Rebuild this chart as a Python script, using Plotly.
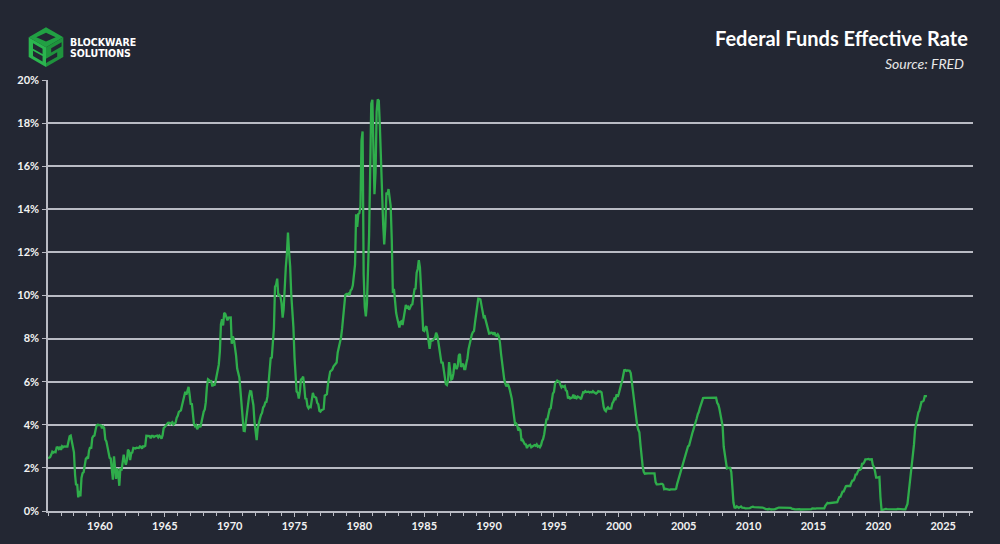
import pandas as pd
import plotly.graph_objects as go

# Monthly effective federal funds rate (%), January 1956 onward
rates = [
    2.45, 2.50, 2.50, 2.62, 2.75, 2.71, 2.75, 2.73, 2.95, 2.96, 2.88, 2.94,  # 1956
    2.84, 3.00, 2.96, 3.00, 3.00, 3.00, 2.99, 3.24, 3.47, 3.50, 3.28, 2.98,  # 1957
    2.72, 1.67, 1.20, 1.26, 0.63, 0.93, 0.68, 1.53, 1.76, 1.80, 2.27, 2.42,  # 1958
    2.48, 2.43, 2.80, 2.96, 2.90, 3.39, 3.47, 3.50, 3.76, 3.98, 4.00, 3.99,  # 1959
    3.99, 3.97, 3.84, 3.92, 3.85, 3.32, 3.23, 2.98, 2.60, 2.47, 2.44, 1.98,  # 1960
    1.45, 2.54, 2.02, 1.49, 1.98, 1.73, 1.17, 2.00, 1.88, 2.26, 2.61, 2.33,  # 1961
    2.15, 2.37, 2.85, 2.78, 2.36, 2.68, 2.71, 2.93, 2.90, 2.90, 2.94, 2.93,  # 1962
    2.92, 3.00, 2.98, 2.90, 3.00, 2.99, 3.02, 3.49, 3.48, 3.50, 3.48, 3.38,  # 1963
    3.48, 3.48, 3.43, 3.47, 3.50, 3.50, 3.42, 3.50, 3.45, 3.36, 3.52, 3.85,  # 1964
    3.90, 3.98, 4.04, 4.09, 4.10, 4.04, 4.09, 4.12, 4.01, 4.08, 4.10, 4.32,  # 1965
    4.42, 4.60, 4.65, 4.67, 4.90, 5.17, 5.30, 5.53, 5.40, 5.53, 5.76, 5.40,  # 1966
    4.94, 5.00, 4.53, 4.05, 3.94, 3.98, 3.79, 3.90, 3.99, 3.88, 4.13, 4.51,  # 1967
    4.61, 4.71, 5.05, 5.76, 6.11, 6.07, 6.02, 6.03, 5.78, 5.91, 5.82, 6.02,  # 1968
    6.30, 6.64, 6.79, 7.41, 8.67, 8.90, 8.61, 9.19, 9.15, 9.00, 8.85, 8.97,  # 1969
    8.98, 8.98, 7.76, 8.10, 7.95, 7.61, 7.21, 6.61, 6.29, 6.20, 5.60, 4.90,  # 1970
    4.14, 3.72, 3.71, 4.16, 4.63, 4.91, 5.31, 5.56, 5.55, 5.20, 4.91, 4.14,  # 1971
    3.50, 3.29, 3.83, 4.17, 4.27, 4.46, 4.55, 4.80, 4.87, 5.04, 5.06, 5.33,  # 1972
    5.94, 6.58, 7.09, 7.12, 7.84, 8.49, 10.40, 10.50, 10.78, 10.01, 10.03, 9.95,  # 1973
    9.65, 8.97, 9.35, 10.51, 11.31, 11.93, 12.92, 12.01, 11.34, 10.06, 9.45, 8.53,  # 1974
    7.13, 6.24, 5.54, 5.49, 5.22, 5.55, 6.10, 6.14, 6.24, 5.82, 5.22, 5.20,  # 1975
    4.87, 4.77, 4.84, 4.82, 5.29, 5.48, 5.31, 5.29, 5.25, 5.02, 4.95, 4.65,  # 1976
    4.61, 4.68, 4.69, 4.73, 5.35, 5.39, 5.42, 5.90, 6.14, 6.47, 6.51, 6.56,  # 1977
    6.70, 6.78, 6.79, 6.89, 7.36, 7.60, 7.81, 8.04, 8.45, 8.96, 9.76, 10.03,  # 1978
    10.07, 10.06, 10.09, 10.01, 10.24, 10.29, 10.47, 10.94, 11.43, 13.77, 13.18, 13.78,  # 1979
    13.82, 14.13, 17.19, 17.61, 10.98, 9.47, 9.03, 9.61, 10.87, 12.81, 15.85, 18.90,  # 1980
    19.08, 15.93, 14.70, 15.72, 18.52, 19.10, 19.04, 17.82, 15.87, 15.08, 13.31, 12.37,  # 1981
    13.22, 14.78, 14.68, 14.94, 14.45, 14.15, 12.59, 10.12, 10.31, 9.71, 9.20, 8.95,  # 1982
    8.68, 8.51, 8.77, 8.80, 8.63, 8.98, 9.37, 9.56, 9.45, 9.48, 9.34, 9.47,  # 1983
    9.56, 9.59, 9.91, 10.29, 10.32, 11.06, 11.23, 11.64, 11.30, 9.99, 9.43, 8.38,  # 1984
    8.35, 8.50, 8.58, 8.27, 7.97, 7.53, 7.88, 7.90, 7.92, 7.99, 8.05, 8.27,  # 1985
    8.14, 7.86, 7.48, 6.99, 6.85, 6.92, 6.56, 6.17, 5.89, 5.85, 6.04, 6.91,  # 1986
    6.43, 6.10, 6.13, 6.37, 6.85, 6.73, 6.58, 6.73, 7.22, 7.29, 6.69, 6.77,  # 1987
    6.83, 6.58, 6.58, 6.87, 7.09, 7.51, 7.75, 8.01, 8.19, 8.30, 8.35, 8.76,  # 1988
    9.12, 9.36, 9.85, 9.84, 9.81, 9.53, 9.24, 8.99, 9.02, 8.84, 8.55, 8.45,  # 1989
    8.23, 8.24, 8.28, 8.26, 8.18, 8.29, 8.15, 8.13, 8.20, 8.11, 7.81, 7.31,  # 1990
    6.91, 6.25, 6.12, 5.91, 5.78, 5.90, 5.82, 5.66, 5.45, 5.21, 4.81, 4.43,  # 1991
    4.03, 4.06, 3.98, 3.73, 3.82, 3.76, 3.25, 3.30, 3.22, 3.10, 3.09, 2.92,  # 1992
    3.02, 3.03, 3.07, 2.96, 3.00, 3.04, 3.06, 3.03, 3.09, 2.99, 3.02, 2.96,  # 1993
    3.05, 3.25, 3.34, 3.56, 4.01, 4.25, 4.26, 4.47, 4.73, 4.76, 5.29, 5.45,  # 1994
    5.53, 5.92, 5.98, 6.05, 6.01, 6.00, 5.85, 5.74, 5.80, 5.76, 5.80, 5.60,  # 1995
    5.56, 5.22, 5.31, 5.22, 5.24, 5.27, 5.40, 5.22, 5.30, 5.24, 5.31, 5.29,  # 1996
    5.25, 5.19, 5.39, 5.51, 5.50, 5.56, 5.52, 5.54, 5.54, 5.50, 5.52, 5.50,  # 1997
    5.56, 5.51, 5.49, 5.45, 5.49, 5.56, 5.54, 5.55, 5.51, 5.07, 4.83, 4.68,  # 1998
    4.63, 4.76, 4.81, 4.74, 4.74, 4.76, 4.99, 5.07, 5.22, 5.20, 5.42, 5.30,  # 1999
    5.45, 5.73, 5.85, 6.02, 6.27, 6.53, 6.54, 6.50, 6.52, 6.51, 6.51, 6.40,  # 2000
    5.98, 5.49, 5.31, 4.80, 4.21, 3.97, 3.77, 3.65, 3.07, 2.49, 2.09, 1.82,  # 2001
    1.73, 1.74, 1.73, 1.75, 1.75, 1.75, 1.73, 1.74, 1.75, 1.75, 1.34, 1.24,  # 2002
    1.24, 1.26, 1.25, 1.26, 1.26, 1.22, 1.01, 1.03, 1.01, 1.01, 1.00, 0.98,  # 2003
    1.00, 1.01, 1.00, 1.00, 1.00, 1.03, 1.26, 1.43, 1.61, 1.76, 1.93, 2.16,  # 2004
    2.28, 2.50, 2.63, 2.79, 3.00, 3.04, 3.26, 3.50, 3.62, 3.78, 4.00, 4.16,  # 2005
    4.29, 4.49, 4.59, 4.79, 4.94, 4.99, 5.24, 5.25, 5.25, 5.25, 5.25, 5.24,  # 2006
    5.25, 5.26, 5.26, 5.25, 5.25, 5.25, 5.26, 5.02, 4.94, 4.76, 4.49, 4.24,  # 2007
    3.94, 2.98, 2.61, 2.28, 1.98, 2.00, 2.01, 2.00, 1.81, 0.97, 0.39, 0.16,  # 2008
    0.15, 0.22, 0.18, 0.15, 0.18, 0.21, 0.16, 0.16, 0.15, 0.12, 0.12, 0.12,  # 2009
    0.11, 0.13, 0.16, 0.20, 0.20, 0.18, 0.18, 0.19, 0.19, 0.19, 0.19, 0.18,  # 2010
    0.17, 0.16, 0.14, 0.10, 0.09, 0.09, 0.07, 0.10, 0.08, 0.07, 0.08, 0.07,  # 2011
    0.08, 0.10, 0.13, 0.14, 0.16, 0.16, 0.16, 0.13, 0.14, 0.16, 0.16, 0.16,  # 2012
    0.14, 0.15, 0.14, 0.15, 0.11, 0.09, 0.09, 0.08, 0.08, 0.09, 0.08, 0.09,  # 2013
    0.07, 0.07, 0.08, 0.09, 0.09, 0.10, 0.09, 0.09, 0.09, 0.09, 0.09, 0.12,  # 2014
    0.11, 0.11, 0.11, 0.12, 0.12, 0.13, 0.13, 0.14, 0.14, 0.12, 0.12, 0.24,  # 2015
    0.34, 0.38, 0.36, 0.37, 0.37, 0.38, 0.39, 0.40, 0.40, 0.40, 0.41, 0.54,  # 2016
    0.65, 0.66, 0.79, 0.90, 0.91, 1.04, 1.15, 1.16, 1.15, 1.15, 1.16, 1.30,  # 2017
    1.41, 1.42, 1.51, 1.69, 1.70, 1.82, 1.91, 1.91, 1.95, 2.19, 2.20, 2.27,  # 2018
    2.40, 2.40, 2.41, 2.42, 2.39, 2.38, 2.40, 2.13, 2.04, 1.83, 1.55, 1.55,  # 2019
    1.55, 1.58, 0.65, 0.05, 0.05, 0.08, 0.09, 0.10, 0.09, 0.09, 0.09, 0.09,  # 2020
    0.09, 0.08, 0.07, 0.07, 0.06, 0.08, 0.10, 0.09, 0.08, 0.08, 0.08, 0.08,  # 2021
    0.08, 0.08, 0.20, 0.33, 0.77, 1.21, 1.68, 2.33, 2.56, 3.08, 3.78, 4.10,  # 2022
    4.33, 4.57, 4.65, 4.83, 5.06, 5.08, 5.12, 5.33, 5.33, 5.33,              # 2023
]
start_month = "1956-01-01"
dates = pd.date_range(start_month, periods=len(rates), freq="MS")

y_ticks = [0, 2, 4, 6, 8, 10, 12, 14, 16, 18, 20]
y_tick_labels = [f"{v}%" for v in y_ticks]

title_text = "Federal Funds Effective Rate"
source_text = "Source: FRED"
logo_lines = ["BLOCKWARE", "SOLUTIONS"]

BG = "#232733"
GRID = "#b9bbc4"
GREEN = "#2fad4b"
TEXT = "#f2f2f2"

# Plot area in page pixels
PL, PR, PT, PB = 48, 27, 80, 31
PW, PH = 1000 - PL - PR, 544 - PT - PB


def px(x):
    return (x - PL) / PW


def py(y):
    return (544 - PB - y) / PH


fig = go.Figure()
fig.add_trace(go.Scatter(
    x=dates, y=rates, mode="lines",
    line=dict(color=GREEN, width=2.3),
    hoverinfo="x+y", showlegend=False,
))

fig.update_layout(
    width=1000, height=544,
    margin=dict(l=PL, r=PR, t=PT, b=PB),
    paper_bgcolor=BG, plot_bgcolor=BG,
    font=dict(family="Lato", color=TEXT),
    showlegend=False,
)

fig.update_xaxes(
    type="date",
    range=["1956-01-01", "2027-04-20"],
    tick0="1960-01-01", dtick="M60", tickformat="%Y",
    ticks="outside", ticklen=4, tickwidth=1, tickcolor=GRID,
    minor=dict(dtick="M12", tick0="1956-01-01", ticks="outside", ticklen=3,
               tickwidth=1, tickcolor=GRID, showgrid=False),
    showgrid=False, zeroline=False,
    showline=True, linecolor=GRID, linewidth=1.5,
    tickfont=dict(family="Lato", size=11, color=TEXT, weight="bold"),
)

fig.update_yaxes(
    range=[0, 20],
    tickvals=y_ticks, ticktext=y_tick_labels,
    ticks="outside", ticklen=4, tickwidth=1, tickcolor=GRID,
    showgrid=True, gridcolor=GRID, gridwidth=1.5,
    zeroline=False,
    showline=True, linecolor=GRID, linewidth=1.5,
    tickfont=dict(family="Lato", size=11, color=TEXT, weight="bold"),
    ticklabelstandoff=1,
)

# Title and source
fig.add_annotation(text=f"<b>{title_text}</b>", xref="paper", yref="paper",
                   x=px(970), y=py(38), xanchor="right", yanchor="middle",
                   showarrow=False, font=dict(family="Lato", size=20, color="#ffffff"))
fig.add_annotation(text=f"<i>{source_text}</i>", xref="paper", yref="paper",
                   x=px(966), y=py(63), xanchor="right", yanchor="middle",
                   showarrow=False, font=dict(family="Lato", size=14, color="#e8e8e8"))

# Logo: isometric cube
cx, cy, r = 46, 47, 20
hx = r * 0.866
top = (cx, cy - r)
ur = (cx + hx, cy - r / 2)
lr = (cx + hx, cy + r / 2)
bot = (cx, cy + r)
ll = (cx - hx, cy + r / 2)
ul = (cx - hx, cy - r / 2)
ctr = (cx, cy)


def path(points):
    return "M " + " L ".join(f"{px(x):.5f},{py(y):.5f}" for x, y in points) + " Z"


def lerp(a, b, t):
    return (a[0] + (b[0] - a[0]) * t, a[1] + (b[1] - a[1]) * t)


faces = [
    ([top, ur, ctr, ul], "#21a043"),
    ([ul, ctr, bot, ll], "#2bb54f"),
    ([ctr, ur, lr, bot], "#1f933d"),
]
for pts, col in faces:
    fig.add_shape(type="path", path=path(pts), xref="paper", yref="paper",
                  fillcolor=col, line=dict(width=0), layer="above")

# dark rhombus on top face
fig.add_shape(type="path", path=path([
    lerp(top, ctr, 0.28), lerp(ur, ul, 0.22), lerp(ctr, top, 0.28), lerp(ul, ur, 0.22)]),
    xref="paper", yref="paper", fillcolor=BG, line=dict(width=0), layer="above")

# "B" on left face
for t0, t1 in [(0.18, 0.45), (0.55, 0.82)]:
    a = lerp(ul, ll, t0)
    b = lerp(ctr, bot, t0)
    c = lerp(ctr, bot, t1)
    d = lerp(ul, ll, t1)
    a, b = lerp(a, b, 0.25), lerp(a, b, 0.8)
    d, c = lerp(d, c, 0.25), lerp(d, c, 0.8)
    fig.add_shape(type="path", path=path([a, b, c, d]), xref="paper", yref="paper",
                  fillcolor=BG, line=dict(width=0), layer="above")

# "S" on right face
for t0, t1, s0, s1 in [(0.2, 0.42, 0.3, 1.0), (0.58, 0.8, 0.0, 0.7)]:
    a = lerp(lerp(ctr, bot, t0), lerp(ur, lr, t0), s0)
    b = lerp(lerp(ctr, bot, t0), lerp(ur, lr, t0), s1 * 0.85 + 0.05)
    c = lerp(lerp(ctr, bot, t1), lerp(ur, lr, t1), s1 * 0.85 + 0.05)
    d = lerp(lerp(ctr, bot, t1), lerp(ur, lr, t1), s0)
    fig.add_shape(type="path", path=path([a, b, c, d]), xref="paper", yref="paper",
                  fillcolor=BG, line=dict(width=0), layer="above")

for txt, yy in zip(logo_lines, [41.5, 52.5]):
    fig.add_annotation(text=f"<b>{txt}</b>", xref="paper", yref="paper",
                       x=px(67.5), y=py(yy), xanchor="left", yanchor="middle", showarrow=False,
                       font=dict(family="DejaVu Sans Condensed, Roboto Condensed, Roboto",
                                 size=10.5, color="#ffffff"))

fig.write_html("out.html")
